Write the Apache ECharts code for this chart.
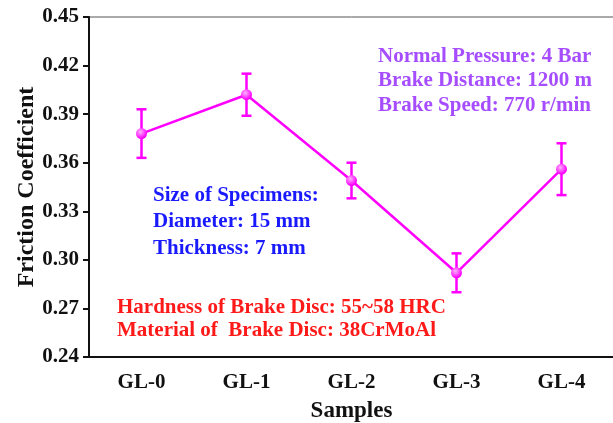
<!DOCTYPE html>
<html>
<head>
<meta charset="utf-8">
<script src="https://cdn.jsdelivr.net/npm/echarts@6/dist/echarts.min.js"></script>
<style>
  html, body { margin: 0; padding: 0; background: #fff; }
  #chart { width: 613px; height: 423px; }
</style>
</head>
<body>
<div id="chart"></div>
<script>
const samples = ['GL-0', 'GL-1', 'GL-2', 'GL-3', 'GL-4'];
const friction = [0.378, 0.402, 0.349, 0.292, 0.356];
const errors = [0.015, 0.013, 0.011, 0.012, 0.016];

const testNotes = ['Normal Pressure: 4 Bar', 'Brake Distance: 1200 m', 'Brake Speed: 770 r/min'];
const specimenNotes = ['Size of Specimens:', 'Diameter: 15 mm', 'Thickness: 7 mm'];
const discNotes = ['Hardness of Brake Disc: 55~58 HRC', 'Material of  Brake Disc: 38CrMoAl'];

const font = '"Liberation Serif", "Times New Roman", serif';
const magenta = '#ff00ff';

const chart = echarts.init(document.getElementById('chart'));

const errorData = samples.map((s, i) => [i, friction[i] - errors[i], friction[i] + errors[i]]);

// text blocks, one line per element
function textLines(lines, x, y, step, color) {
  return lines.map((t, i) => ({
    type: 'text',
    left: x,
    top: y + i * step,
    style: { text: t, fill: color, font: 'bold 21px ' + font }
  }));
}

const option = {
  animation: false,
  grid: {
    left: 89, right: -1, top: 17, bottom: 66,
    outerBoundsMode: 'none',
    show: true, borderColor: '#555', borderWidth: 1
  },
  xAxis: {
    type: 'category',
    data: samples,
    name: 'Samples',
    nameLocation: 'middle',
    nameGap: 43,
    nameTextStyle: { fontFamily: font, fontWeight: 'bold', fontSize: 23, color: '#111' },
    axisLine: { lineStyle: { color: '#111', width: 2 } },
    axisTick: { alignWithLabel: true, length: 6, lineStyle: { color: '#111', width: 2 } },
    axisLabel: { fontFamily: font, fontWeight: 'bold', fontSize: 21, color: '#111', margin: 15 }
  },
  yAxis: {
    type: 'value',
    min: 0.24, max: 0.45, interval: 0.03,
    name: 'Friction Coefficient',
    nameLocation: 'middle',
    nameGap: 50,
    nameMoveOverlap: false,
    nameTextStyle: { fontFamily: font, fontWeight: 'bold', fontSize: 24, color: '#111' },
    axisLine: { show: true, lineStyle: { color: '#111', width: 2 } },
    axisTick: { show: true, length: 6, lineStyle: { color: '#111', width: 2 } },
    splitLine: { show: false },
    axisLabel: {
      fontFamily: font, fontWeight: 'bold', fontSize: 21, color: '#111', margin: 10,
      formatter: v => v.toFixed(2)
    }
  },
  series: [
    {
      type: 'line',
      data: friction,
      symbol: 'circle',
      symbolSize: 11,
      lineStyle: { color: magenta, width: 2.5 },
      itemStyle: {
        color: {
          type: 'radial', x: 0.4, y: 0.35, r: 0.6,
          colorStops: [{ offset: 0, color: '#ffb3ff' }, { offset: 1, color: magenta }]
        }
      },
      z: 3
    },
    {
      type: 'custom',
      data: errorData,
      z: 2,
      renderItem: (params, api) => {
        const lo = api.coord([api.value(0), api.value(1)]);
        const hi = api.coord([api.value(0), api.value(2)]);
        const w = 5;
        const style = { stroke: magenta, lineWidth: 2.5 };
        return {
          type: 'group',
          children: [
            { type: 'line', shape: { x1: hi[0], y1: hi[1], x2: lo[0], y2: lo[1] }, style },
            { type: 'line', shape: { x1: hi[0] - w, y1: hi[1], x2: hi[0] + w, y2: hi[1] }, style },
            { type: 'line', shape: { x1: lo[0] - w, y1: lo[1], x2: lo[0] + w, y2: lo[1] }, style }
          ]
        };
      }
    }
  ],
  graphic: [
    ...textLines(testNotes, 378, 46, 24.5, '#a64dff'),
    ...textLines(specimenNotes, 153, 185, 26.5, '#1a1aff'),
    ...textLines(discNotes, 117, 297, 23.5, '#ff1a1a')
  ]
};

chart.setOption(option);
</script>
</body>
</html>
